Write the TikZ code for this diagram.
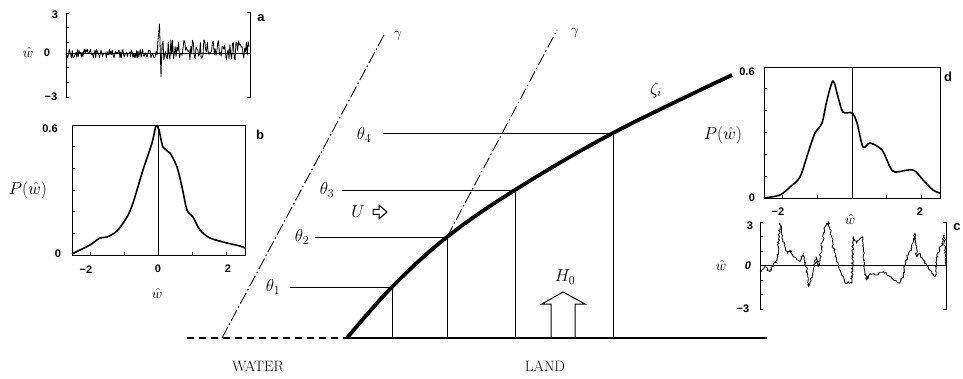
\documentclass[tikz,border=0pt]{standalone}
\usepackage{fontspec}
\setsansfont{Liberation Sans}
\usetikzlibrary{decorations.pathmorphing}
\begin{document}
\begin{tikzpicture}[x=1pt,y=-1pt,
  ticklab/.style={font=\sffamily\bfseries\fontsize{11}{11}\selectfont, inner sep=0pt},
  panlab/.style={font=\sffamily\bfseries\fontsize{13}{13}\selectfont, inner sep=0pt},
  mlab/.style={font=\fontsize{18}{18}\selectfont, inner sep=0pt},
  slab/.style={font=\fontsize{15}{15}\selectfont, inner sep=0pt},
  frame/.style={line width=0.9pt},
  thinln/.style={line width=0.7pt},
  pdf/.style={line width=1.6pt, line join=round},
  trace/.style={line width=0.8pt, line join=round},
  gam/.style={line width=0.9pt, dash pattern=on 12pt off 3pt on 1.5pt off 3pt},
  zeta/.style={line width=3.8pt, line cap=butt},
  hollow/.style={line width=1pt, line join=miter}]
\useasboundingbox (0,0) rectangle (963,379);

% ---------------- panel a ----------------
\draw[frame] (69,13) -- (66,13) -- (66,97) -- (69,97);
\foreach \v in {27.5,42,67.5,82} \draw[frame] (66,\v) -- (69,\v);
\draw[frame] (247,12) -- (250,12) -- (250,97) -- (247,97);
\draw[thinln] (66,53) -- (250,53);
\pgfmathsetseed{12}
\draw[trace] plot[domain=67:157, samples=120] (\x,{53.5+4.5*rand}) -- (158,40) -- (159.5,24) -- (161,77) -- (162,45)
  -- plot[domain=163:249, samples=100] (\x,{50+10*rand});
\node[ticklab] (a3) at (55,15) {3};
\node[ticklab] (a0) at (47,53) {0};
\node[ticklab] (am) at (51,97) {\textminus3};
\node[slab] (aw) at (28,53) {$\hat w$};
\node[panlab] (alab) at (261,18) {a};

% ---------------- panel b ----------------
\draw[frame] (72,125) rectangle (245,255);
\draw[thinln] (158,125) -- (158,255);
\foreach \v in {146.7,168.3,190,211.7,233.3} \draw[frame] (72,\v) -- (75,\v);
\foreach \u in {90,124,192,226} \draw[frame] (\u,255) -- (\u,252);
\draw[pdf] plot[smooth, tension=0.5] coordinates {(72,254) (80,250) (90,245) (100,238) (107,237) (117,231) (127,217) (133,203) (143,170) (152,143) (156,126) (159,130) (163,147) (170,153) (177,167) (182,187) (187,210) (193,217) (200,230) (210,238) (227,243) (240,246) (245,248)};
\node[ticklab] (b06) at (50,129) {0.6};
\node[ticklab] (b0) at (58,254) {0};
\node[ticklab] (bm2) at (86,270) {\textminus2};
\node[ticklab] (bx0) at (158,269) {0};
\node[ticklab] (bx2) at (228,269) {2};
\node[slab] (bw) at (157,293) {$\hat w$};
\node[mlab] (bP) at (28,190) {$P(\hat w)$};
\node[panlab] (blab) at (260,135) {b};

% ---------------- central sketch ----------------
\coordinate (s0) at (347,338);
\coordinate (z1) at (392,287);
\coordinate (z2) at (447,237);
\coordinate (z3) at (515,190);
\coordinate (z4) at (613,133);
\coordinate (zend) at (732,75);
\coordinate (wl) at (187,338);
\coordinate (lr) at (767,338);
\coordinate (g1b) at (222,338);
\coordinate (g1t) at (385,33);
\coordinate (g2t) at (557,30);

\draw[line width=1.4pt, dash pattern=on 7pt off 5pt] (wl) -- (s0);
\draw[line width=1.4pt] (s0) -- (lr);
\draw[gam] (g1b) -- (g1t);
\draw[gam] (z2) -- (g2t);

\foreach \p in {z1,z2,z3,z4} \draw[thinln] (\p) -- (\p |- s0);
\draw[thinln] (290,287) -- (z1);
\draw[thinln] (315,237) -- (z2);
\draw[thinln] (342,190) -- (z3);
\draw[thinln] (383,133) -- (z4);

\draw[zeta] plot[smooth, tension=0.6] coordinates {(s0) (z1) (z2) (z3) (z4) (zend)};

\node[mlab] (t1) at (273,287) {$\theta_1$};
\node[mlab] (t2) at (302,237) {$\theta_2$};
\node[mlab] (t3) at (327,190) {$\theta_3$};
\node[mlab] (t4) at (364,135) {$\theta_4$};
\node[slab] (gam1) at (398,36) {$\gamma$};
\node[slab] (gam2) at (575,33) {$\gamma$};
\node[mlab] (zl) at (656,90) {$\zeta_i$};
\node[mlab] (U) at (358,212) {$U$};
\draw[hollow] (373,209.5) -- (379,209.5) -- (379,205) -- (387,212) -- (379,219) -- (379,214.5) -- (373,214.5) -- cycle;
\node[mlab] (H) at (565,277) {$H_0$};
\draw[hollow] (551,337) -- (551,304) -- (542,304) -- (563,292) -- (585,304) -- (575,304) -- (575,337);
\node[slab] (water) at (258,366) {WATER};
\node[slab] (land) at (545,366) {LAND};

% ---------------- panel d ----------------
\draw[frame] (764,67) rectangle (940,198);
\draw[thinln] (852,67) -- (852,198);
\foreach \v in {88.8,110.7,132.5,154.3,176.2} \draw[frame] (764,\v) -- (767,\v);
\foreach \u in {782,817,886,921} \draw[frame] (\u,198) -- (\u,195);
\draw[pdf] plot[smooth, tension=0.5] coordinates {(764,198) (780,195) (790,187) (800,177) (808,153) (815,133) (822,123) (827,100) (833,81) (838,97) (843,112) (852,113) (857,123) (863,147) (870,143) (882,150) (890,167) (895,172) (913,170) (923,180) (933,190) (940,193)};
\node[ticklab] (d06) at (747,72) {0.6};
\node[ticklab] (d0) at (752,198) {0};
\node[ticklab] (dm2) at (778,212) {\textminus2};
\node[ticklab] (dx2) at (920,212) {2};
\node[slab] (dw) at (850,220) {$\hat w$};
\node[mlab] (dP) at (723,135) {$P(\hat w)$};
\node[panlab] (dlab) at (948,77) {d};

% ---------------- panel c ----------------
\draw[frame] (763,222) -- (760,222) -- (760,309) -- (763,309);
\foreach \v in {236.5,251,280,294.5} \draw[frame] (760,\v) -- (763,\v);
\draw[frame] (943,222) -- (946,222) -- (946,309) -- (943,309);
\draw[thinln] (760,265) -- (946,265);
\draw[trace, decorate, decoration={random steps, segment length=1.5pt, amplitude=1.2pt}]
  plot coordinates {(760,271.7) (765,266.7) (770,271.7) (773.3,265) (777.3,260) (780,223.3) (782.7,240) (785,246.7) (787.3,253.3) (790,250) (793.3,256.7) (796.7,260) (800,261.7) (803.3,253.3) (806,266.7) (808.3,286.7) (810.7,280) (813.3,270) (816,256.7) (818.3,266.7) (821.7,246.7) (825,226.7) (828.3,221.7) (831.7,236.7) (835,256.7) (838.3,265) (841.7,275) (845,283.3) (848.3,281.7) (851.7,283.3) (853.3,236.7) (856.7,243.3) (860,238.3) (862.7,236.7) (864,265) (866.7,280) (870,273.3) (876.7,275) (883.3,271.7) (890,276.7) (896.7,281.7) (900,283.3) (903.3,275) (905,265) (908.3,253.3) (911.7,250) (915,233.3) (916.7,256.7) (920,253.3) (923.3,260) (928.3,266.7) (931.7,273.3) (935,276.7) (936.7,260) (939.3,250) (941.7,243.3) (944,235) (946,265)};
\node[ticklab] (c3) at (750,226) {3};
\node[ticklab, font=\sffamily\bfseries\itshape\fontsize{11}{11}\selectfont] (c0) at (748,266) {0};
\node[ticklab] (cm) at (743,309) {\textminus3};
\node[slab] (cw) at (721,265) {$\hat w$};
\node[panlab] (clab) at (957,227) {c};
\end{tikzpicture}
\end{document}
